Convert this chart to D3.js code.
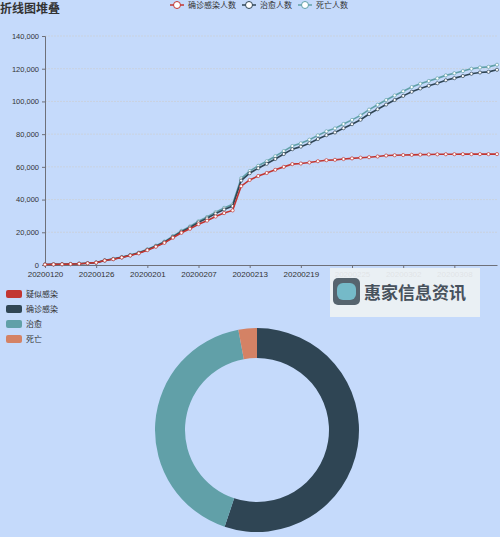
<!DOCTYPE html>
<html><head><meta charset="utf-8">
<script src="https://cdn.jsdelivr.net/npm/d3@7"></script>
<style>body{margin:0;background:#c5dafb;font-family:"Noto Sans CJK SC","Noto Sans",sans-serif}</style>
</head><body><svg id="c" width="500" height="537"></svg>
<script>
// Hubei daily cumulative figures, 2020-01-20 .. 2020-03-13
const confirmed = [270,375,444,549,729,1052,1423,2714,3554,4586,5806,7153,9074,11177,13522,16678,19665,22112,24953,27100,29631,31728,33366,48206,51986,54406,56249,58182,59989,61682,62031,62662,63454,64084,64287,64786,65187,65596,65914,66337,66907,67103,67217,67332,67466,67592,67666,67707,67743,67760,67773,67781,67786,67790];
const cured = [25,25,28,31,32,42,44,47,80,90,116,166,215,295,396,520,633,817,1115,1439,1795,2222,2639,3441,4131,4774,5623,6639,7862,9128,10337,11788,13557,15299,16738,18854,20912,23200,26403,28895,31187,33757,36167,38556,40479,41966,43468,45235,46488,47765,49134,49908,50298,51553];
const deaths = [6,9,17,24,39,52,76,100,125,162,204,249,294,350,414,479,549,618,699,780,871,974,1068,1310,1318,1457,1596,1696,1789,1921,2029,2144,2250,2346,2495,2563,2615,2641,2682,2727,2761,2803,2834,2871,2902,2931,2959,2986,3008,3024,3046,3056,3062,3075];
const lineNames = ["确诊感染人数","治愈人数","死亡人数"];
const lineColors = ["#c23531","#2f4554","#61a0a8"];
const pieNames = ["疑似感染","确诊感染","治愈","死亡"];
const pieValues = [0,67790,51553,3600];
const pieColors = ["#c23531","#2f4554","#61a0a8","#d48265"];

const start = new Date(2020,0,20);
const dates = confirmed.map((d,i)=>d3.timeFormat("%Y%m%d")(d3.timeDay.offset(start,i)));

const svg = d3.select("#c");
svg.append("text").attr("x",0).attr("y",13).attr("font-size",12).attr("font-weight","bold").attr("fill","#333").text("折线图堆叠");

// legend
const lg = svg.append("g").attr("transform","translate(170,5)");
let lx = 0;
lineNames.forEach((n,i)=>{
  const g = lg.append("g").attr("transform",`translate(${lx},0)`);
  g.append("line").attr("x1",0).attr("x2",14).attr("y1",0).attr("y2",0).attr("stroke",lineColors[i]).attr("stroke-width",1.5);
  g.append("circle").attr("cx",7).attr("cy",0).attr("r",3.5).attr("fill","#fff").attr("stroke",lineColors[i]);
  g.append("text").attr("x",18).attr("y",3).attr("font-size",8).attr("fill","#333").text(n);
  lx += [72,56,60][i];
});

const x = d3.scalePoint().domain(dates).range([45,497]);
const y = d3.scaleLinear().domain([0,140000]).range([265,36]);

svg.append("g").selectAll("line").data(y.ticks(7).slice(1)).join("line")
  .attr("x1",45).attr("x2",497).attr("y1",d=>y(d)).attr("y2",d=>y(d))
  .attr("stroke","#ccc").attr("stroke-dasharray","2,1").attr("stroke-width",0.6);
const ya = svg.append("g").attr("transform","translate(45,0)").call(d3.axisLeft(y).ticks(7).tickSize(3).tickFormat(d3.format(",")));
ya.selectAll("text").attr("font-size",7.5).attr("fill","#333");
ya.selectAll("path,line").attr("stroke","#6e7079");
const xa = svg.append("g").attr("transform","translate(0,265)").call(d3.axisBottom(x).tickValues(dates.filter((d,i)=>i%6===0)).tickSize(3).tickSizeOuter(0));
xa.selectAll("text").attr("font-size",8).attr("fill","#333");
xa.selectAll("path,line").attr("stroke","#6e7079");

const stacked = [confirmed, confirmed.map((v,i)=>v+cured[i]), confirmed.map((v,i)=>v+cured[i]+deaths[i])];
const line = d3.line().x((d,i)=>x(dates[i])).y(d=>y(d));
[2,1,0].forEach(k=>{
  svg.append("path").datum(stacked[k]).attr("d",line).attr("fill","none").attr("stroke",lineColors[k]).attr("stroke-width",1.6);
  svg.append("g").selectAll("circle").data(stacked[k]).join("circle")
    .attr("cx",(d,i)=>x(dates[i])).attr("cy",d=>y(d)).attr("r",1.6).attr("fill","#fff").attr("stroke",lineColors[k]).attr("stroke-width",0.7);
});

// watermark
const wm = svg.append("g").attr("transform","translate(330,268)").attr("opacity",0.92);
wm.append("rect").attr("width",150).attr("height",49).attr("fill","#eef2f4");
wm.append("rect").attr("x",3).attr("y",10).attr("width",27).attr("height",27).attr("rx",5).attr("fill","#4d5a63");
wm.append("rect").attr("x",7).attr("y",15).attr("width",19).attr("height",17).attr("rx",6).attr("fill","#6fb8c4");
wm.append("text").attr("x",34).attr("y",31).attr("font-size",17).attr("font-weight","bold").attr("fill","#3d4750").text("惠家信息资讯");

// pie legend
pieNames.forEach((n,i)=>{
  svg.append("rect").attr("x",6).attr("y",290+i*15).attr("width",16).attr("height",8).attr("rx",2).attr("fill",pieColors[i]);
  svg.append("text").attr("x",26).attr("y",297+i*15).attr("font-size",8).attr("fill","#333").text(n);
});

const pie = d3.pie().sort(null).value(d=>d)(pieValues);
const arc = d3.arc().innerRadius(72).outerRadius(102);
svg.append("g").attr("transform","translate(257,430)").selectAll("path").data(pie).join("path")
  .attr("d",arc).attr("fill",(d,i)=>pieColors[i]);
</script></body></html>
